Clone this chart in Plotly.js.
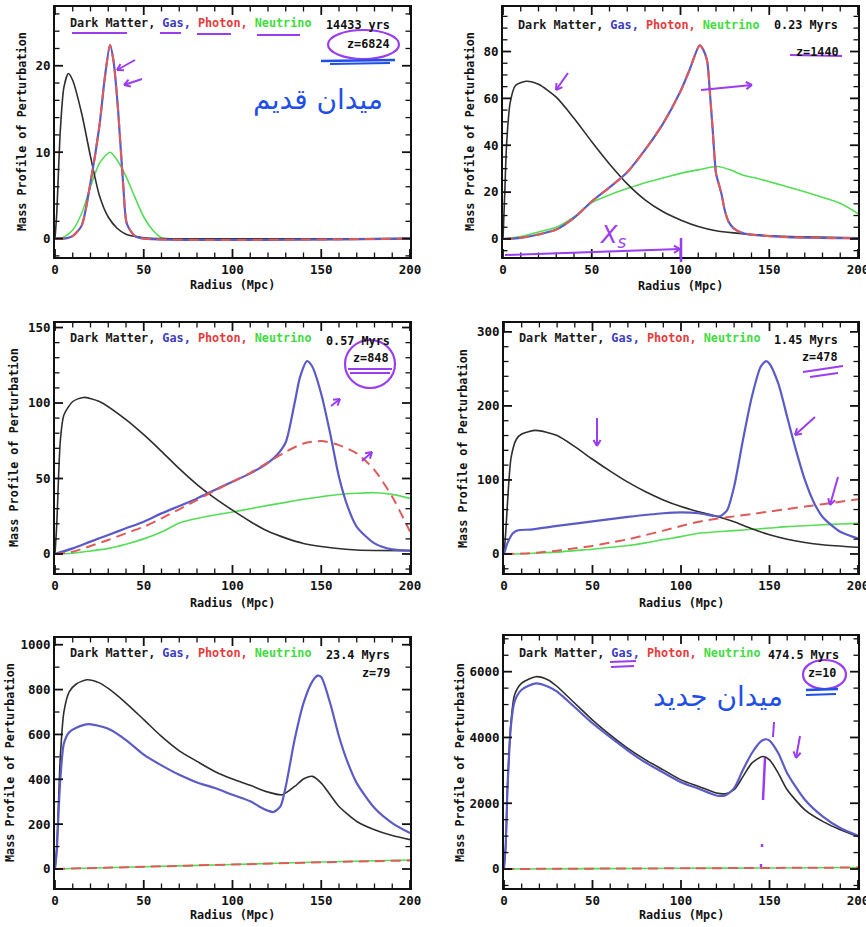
<!DOCTYPE html>
<html><head><meta charset="utf-8">
<script src="https://cdn.plot.ly/plotly-3.0.1.min.js"></script>
<style>body{margin:0;background:#fff}#c{width:866px;height:927px}</style>
</head><body><div id="c"></div>
<script>
// ---------- DATA ----------
// Panel 1: 14433 yrs, z=6824
const p1_dm_r = [0, 1, 2, 3, 5, 7.5, 10, 15, 20, 25, 30, 35, 40, 50, 60, 200];
const p1_dm   = [0, 3, 8, 12.5, 17.5, 19.1, 18.3, 14.5, 9.5, 5, 2.5, 1.2, 0.5, 0.1, 0, 0];
const p1_gas_r = [0, 5, 10, 15, 20, 25, 28, 31, 33, 35.5, 38.5, 40.5, 45, 50, 200];
const p1_gas   = [0, 0, 0.3, 1.5, 6.5, 13, 18.5, 22.4, 20.5, 15, 6, 1.7, 0.3, 0, 0];
const p1_ph_r  = [0, 5, 10, 15, 20, 25, 28, 31, 33, 35.5, 38.5, 40.5, 45, 50, 200];
const p1_ph    = [0, 0, 0.3, 1.5, 6.5, 13, 18.5, 22.4, 20.5, 15, 6, 1.7, 0.3, 0, 0];
const p1_nu_r = [0, 5, 10, 15, 20, 25, 31, 35, 40, 45, 50, 55, 60, 63, 200];
const p1_nu   = [0, 0.2, 1, 2.9, 6, 8.7, 10, 9.1, 7.2, 4.8, 2.5, 1, 0.1, 0, 0];

// Panel 2: 0.23 Myrs, z=1440
const p2_dm_r = [0, 1, 2, 4, 7, 13, 20, 30, 40, 50, 60, 70, 80, 90, 100, 110, 120, 130, 150, 200];
const p2_dm   = [0, 20, 40, 58, 65.5, 67.3, 66, 60.5, 51.5, 41.5, 32, 23.5, 16.7, 11.7, 8.1, 5.3, 3.5, 2.6, 1.4, 0.5];
const p2_gas_r = [0, 10, 20, 30, 40, 50, 60, 70, 80, 90, 100, 105, 110.8, 113, 115, 116.6, 118, 120, 121, 123, 125, 127, 130, 135, 140, 160, 200];
const p2_gas   = [0, 0.5, 1.9, 4, 9, 16, 22, 28.5, 38, 49, 63, 72, 82.6, 80.5, 76, 62, 48, 28, 25, 19.5, 12, 7.5, 4.5, 2.5, 1.8, 0.8, 0.3];
const p2_ph_r  = [0, 10, 20, 30, 40, 50, 60, 70, 80, 90, 100, 105, 110.8, 113, 115, 116.6, 118, 120, 121, 123, 125, 127, 130, 135, 140, 160, 200];
const p2_ph    = [0, 0.5, 1.9, 4, 9, 16, 22, 28.5, 38, 49, 63, 72, 82.6, 80.5, 76, 62, 48, 28, 25, 19.5, 12, 7.5, 4.5, 2.5, 1.8, 0.8, 0.3];
const p2_nu_r = [0, 10, 20, 30, 40, 50, 60, 70, 80, 90, 100, 110, 121, 128, 135, 145, 160, 175, 190, 200];
const p2_nu   = [0, 1, 3, 5, 9.4, 15.5, 18.8, 21.5, 24, 26, 28, 29.5, 30.9, 29.5, 27.3, 25.5, 22.3, 19, 15.2, 10.8];

// Panel 3: 0.57 Myrs, z=848
const p3_dm_r = [0, 1, 3, 5, 10, 16, 25, 40, 50, 60, 70, 80, 90, 100, 110, 120, 130, 140, 150, 170, 200];
const p3_dm   = [0, 20, 75, 92, 101, 103.7, 101, 89, 79, 68, 56.5, 46, 37, 29, 21.5, 15, 10.5, 7, 5, 2.6, 2.2];
const p3_gas_r = [0, 10, 20, 30, 40, 50, 60, 70, 80, 90, 100, 110, 120, 125, 130, 135, 138, 142, 145, 150, 155, 160, 165, 170, 180, 190, 200];
const p3_gas   = [0, 3.7, 8.2, 12.6, 17, 21.4, 26.9, 31.8, 36.8, 42.4, 47.9, 53.4, 60.4, 65.5, 74, 100, 117, 127.7, 124, 106, 80, 51, 31, 18, 7, 3, 2.2];
const p3_ph_r = [0, 10, 20, 30, 40, 50, 60, 70, 80, 90, 100, 110, 120, 130, 140, 150, 160, 170, 180, 190, 200];
const p3_ph   = [0, 1.5, 5.3, 9.3, 13.7, 18, 23.6, 29.6, 35.7, 41.9, 47.9, 53.8, 60.7, 67.7, 73.2, 74.8, 72.1, 66.6, 55.6, 37.9, 14.8];
const p3_nu_r = [0, 10, 20, 30, 40, 50, 60, 70, 80, 90, 100, 110, 120, 130, 140, 150, 160, 170, 180, 190, 200];
const p3_nu   = [0, 0.5, 2, 3.7, 6.5, 10, 14.5, 20.5, 23.5, 25.8, 27.8, 30, 32.2, 34.2, 36.2, 37.9, 39.4, 40.2, 40.6, 39.5, 36.8];

// Panel 4: 1.45 Myrs, z=478
const p4_dm_r = [0, 1, 2, 4, 7, 10, 18, 30, 40, 50, 60, 70, 80, 90, 100, 110, 120, 130, 140, 150, 160, 170, 180, 200];
const p4_dm   = [0, 30, 70, 130, 155, 162, 167, 160, 145, 128, 112, 97, 84, 73, 64, 57, 51, 43.5, 34, 26, 20, 15.5, 12.5, 9];
const p4_gas_r = [0, 1, 2, 5, 8, 15, 30, 50, 70, 90, 100, 110, 118, 122, 126, 130, 135, 140, 145, 148, 150, 155, 160, 165, 170, 175, 180, 190, 200];
const p4_gas   = [0, 8, 15, 28, 32, 33, 38, 44, 50, 55, 56.2, 55, 51.5, 51, 59, 91, 154, 212, 253, 260.5, 257, 230, 185, 140, 100, 70, 50, 30, 21];
const p4_ph_r = [0, 10, 20, 30, 40, 50, 60, 70, 80, 90, 100, 110, 120, 130, 140, 150, 160, 170, 180, 190, 200];
const p4_ph   = [0, 0.5, 2, 4.5, 7.6, 10.8, 15.3, 19.8, 25.6, 31.5, 37.8, 43.6, 47.6, 50.8, 54, 57.4, 60.7, 64, 67.3, 70.5, 73.8];
const p4_nu_r = [0, 10, 20, 30, 40, 50, 60, 70, 80, 90, 100, 110, 120, 130, 140, 150, 160, 170, 180, 190, 200];
const p4_nu   = [0, 0.3, 1.5, 2.5, 4.5, 6.3, 9, 11.5, 15, 19.5, 23.4, 28, 30, 31.5, 33.3, 35, 37, 38.2, 39.5, 40.5, 41.4];

// Panel 5: 23.4 Myrs, z=79
const p5_dm_r = [0, 1, 2, 3, 5, 8, 12, 18, 25, 30, 40, 50, 60, 70, 80, 90, 100, 110, 120, 128, 135, 140, 145, 150, 155, 160, 170, 180, 190, 200];
const p5_dm   = [0, 100, 300, 500, 700, 790, 825, 844, 830, 805, 740, 666, 591, 527, 480, 435, 401, 373, 343, 331, 368, 401, 413, 383, 331, 279, 212, 175, 149, 131];
const p5_gas_r = [0, 1, 2, 3, 5, 8, 12, 19, 30, 40, 50, 60, 70, 80, 90, 100, 110, 115, 120, 123, 127, 130, 135, 140, 145, 148, 150, 155, 160, 165, 170, 180, 190, 200];
const p5_gas   = [0, 80, 250, 400, 560, 610, 630, 646, 625, 575, 510, 462, 420, 386, 361, 331, 302, 279, 260, 254, 279, 368, 577, 740, 837, 862, 856, 740, 591, 473, 383, 272, 205, 160];
const p5_ph_r = [0, 50, 100, 150, 200];
const p5_ph   = [0, 10, 20, 30, 38];
const p5_nu_r = [0, 50, 100, 150, 200];
const p5_nu   = [0, 10, 20, 31, 40];

// Panel 6: 474.5 Myrs, z=10
const p6_dm_r = [0, 1, 2, 4, 6, 10, 18, 25, 30, 40, 50, 60, 70, 80, 90, 100, 110, 120, 125, 130, 135, 140, 146, 150, 155, 160, 170, 180, 190, 200];
const p6_dm   = [0, 700, 2500, 4500, 5300, 5650, 5848, 5750, 5550, 5040, 4530, 4080, 3670, 3320, 3015, 2710, 2510, 2310, 2290, 2410, 2810, 3220, 3420, 3320, 2910, 2410, 1800, 1450, 1195, 990];
const p6_gas_r = [0, 1, 2, 4, 6, 10, 18, 25, 30, 40, 50, 60, 70, 80, 90, 100, 110, 120, 125, 130, 135, 140, 145, 148, 150, 155, 160, 170, 180, 190, 200];
const p6_gas   = [0, 800, 2500, 4400, 5100, 5450, 5646, 5545, 5393, 4918, 4432, 4007, 3602, 3238, 2934, 2641, 2439, 2236, 2236, 2459, 3015, 3521, 3875, 3946, 3906, 3521, 2914, 2105, 1599, 1245, 1012];
const p6_ph_r = [0, 50, 100, 150, 200];
const p6_ph   = [0, 12, 22, 33, 45];
const p6_nu_r = [0, 50, 100, 150, 200];
const p6_nu   = [0, 12, 22, 33, 45];

const timeLabels = ["14433 yrs", "0.23 Myrs", "0.57 Myrs", "1.45 Myrs", "23.4 Myrs", "474.5 Myrs"];
const zLabels = ["z=6824", "z=1440", "z=848", "z=478", "z=79", "z=10"];
const seriesNames = ["Dark Matter", "Gas", "Photon", "Neutrino"];
const xTitle = "Radius (Mpc)";
const yTitle = "Mass Profile of Perturbation";

// ---------- STYLE / LAYOUT ----------
const W = 866, H = 927;
const FONT = "DejaVu Sans Mono";
const C_DM = "#2e2e2e", C_GAS = "#5b5bc8", C_PH = "#e05a5a", C_NU = "#55dd55";
const T_DM = "#1a1a1a", T_GAS = "#3b3bc4", T_PH = "#e53b3b", T_NU = "#3fdc3f";
const PURPLE = "#9a3cf0", BLUE = "#1f4fe6";

const px = x => x / W;
const py = y => 1 - y / H;

const panels = [
  {x0: 55, x1: 410, y0: 7, y1: 257, yr: [-2.13, 26.8], dt: 10, mdt: 2,
   dm: [p1_dm_r, p1_dm], gas: [p1_gas_r, p1_gas], ph: [p1_ph_r, p1_ph], nu: [p1_nu_r, p1_nu],
   legY: 23, tY: 25, zY: 44, tX: 392, zX: 392, ytX: 22, xtY: 285},
  {x0: 503, x1: 858, y0: 7, y1: 257, yr: [-7.7, 99], dt: 20, mdt: 5,
   dm: [p2_dm_r, p2_dm], gas: [p2_gas_r, p2_gas], ph: [p2_ph_r, p2_ph], nu: [p2_nu_r, p2_nu],
   legY: 25, tY: 25, zY: 52, tX: 840, zX: 841, ytX: 470, xtY: 286},
  {x0: 55, x1: 410, y0: 323, y1: 573, yr: [-12.6, 153], dt: 50, mdt: 10,
   dm: [p3_dm_r, p3_dm], gas: [p3_gas_r, p3_gas], ph: [p3_ph_r, p3_ph], nu: [p3_nu_r, p3_nu],
   legY: 338, tY: 341, zY: 358, tX: 392, zX: 391, ytX: 14, xtY: 603},
  {x0: 504, x1: 858, y0: 323, y1: 573, yr: [-25.7, 312], dt: 100, mdt: 20,
   dm: [p4_dm_r, p4_dm], gas: [p4_gas_r, p4_gas], ph: [p4_ph_r, p4_ph], nu: [p4_nu_r, p4_nu],
   legY: 338, tY: 340, zY: 357, tX: 840, zX: 840, ytX: 463, xtY: 603},
  {x0: 55, x1: 410, y0: 638, y1: 888, yr: [-84.7, 1030], dt: 200, mdt: 100,
   dm: [p5_dm_r, p5_dm], gas: [p5_gas_r, p5_gas], ph: [p5_ph_r, p5_ph], nu: [p5_nu_r, p5_nu],
   legY: 653, tY: 655, zY: 673, tX: 392, zX: 392, ytX: 10, xtY: 915},
  {x0: 504, x1: 858, y0: 636, y1: 888, yr: [-577, 7085], dt: 2000, mdt: 500,
   dm: [p6_dm_r, p6_dm], gas: [p6_gas_r, p6_gas], ph: [p6_ph_r, p6_ph], nu: [p6_nu_r, p6_nu],
   legY: 653, tY: 655, zY: 673, tX: 841, zX: 838, ytX: 460, xtY: 915}
];

const traces = [];
const layout = {
  width: W, height: H, margin: {l: 0, r: 0, t: 0, b: 0},
  paper_bgcolor: "#fff", plot_bgcolor: "rgba(0,0,0,0)", showlegend: false,
  annotations: [], shapes: []
};
const tfont = {family: FONT, size: 12.5, color: "#111", weight: "bold"};
const lfont = {family: FONT, size: 11.8, color: "#111", weight: "bold"};

const line = (x0, y0, x1, y1, c, w) => layout.shapes.push({type: "line", xref: "paper", yref: "paper",
  x0: px(x0), y0: py(y0), x1: px(x1), y1: py(y1), line: {color: c, width: w || 2}});

// inward tick marks on all four sides (same linear map as the axes: domain pixels <-> range)
function tickMarks(p) {
  const X = v => p.x0 + (v - 0) / 200 * (p.x1 - p.x0);
  const Y = v => p.y1 - (v - p.yr[0]) / (p.yr[1] - p.yr[0]) * (p.y1 - p.y0);
  for (let k = 0; k <= 20; k++) {
    const v = k * 10, major = (v % 50 === 0), len = major ? 8 : 4.5, w = major ? 1.8 : 1.3;
    line(X(v), p.y1, X(v), p.y1 - len, "#111", w);
    line(X(v), p.y0, X(v), p.y0 + len, "#111", w);
  }
  const k0 = Math.ceil(p.yr[0] / p.mdt), k1 = Math.floor(p.yr[1] / p.mdt);
  for (let k = k0; k <= k1; k++) {
    const v = k * p.mdt, major = Math.abs(v / p.dt - Math.round(v / p.dt)) < 1e-9;
    const len = major ? 8 : 4.5, w = major ? 1.8 : 1.3;
    line(p.x0, Y(v), p.x0 + len, Y(v), "#111", w);
    line(p.x1, Y(v), p.x1 - len, Y(v), "#111", w);
  }
}

panels.forEach((p, i) => {
  const n = i + 1;
  const xa = "x" + n, ya = "y" + n;
  const add = (d, color, width, dash) => traces.push({
    type: "scatter", mode: "lines", x: d[0], y: d[1], xaxis: xa, yaxis: ya,
    line: {color: color, width: width, dash: dash, shape: "spline", smoothing: 0.7},
    hoverinfo: "skip", showlegend: false
  });
  add(p.nu, C_NU, 1.6, "solid");
  add(p.dm, C_DM, 1.6, "solid");
  add(p.gas, C_GAS, 2.2, "solid");
  add(p.ph, C_PH, 2, "10px,6px");

  layout["xaxis" + n] = {
    domain: [px(p.x0), px(p.x1)], anchor: ya, range: [0, 200], tick0: 0, dtick: 50,
    ticks: "", showline: true, linewidth: 2, linecolor: "#111", mirror: true,
    showgrid: false, zeroline: false, tickfont: tfont, ticklabeloverflow: "allow"
  };
  layout["yaxis" + n] = {
    domain: [py(p.y1), py(p.y0)], anchor: xa, range: p.yr, tick0: 0, dtick: p.dt,
    ticks: "", showline: true, linewidth: 2, linecolor: "#111", mirror: true,
    showgrid: false, zeroline: false, tickfont: tfont
  };
  tickMarks(p);

  const legText =
    '<span style="color:' + T_DM + '">' + seriesNames[0] + ',</span> ' +
    '<span style="color:' + T_GAS + '">' + seriesNames[1] + ',</span> ' +
    '<span style="color:' + T_PH + '">' + seriesNames[2] + ',</span> ' +
    '<span style="color:' + T_NU + '">' + seriesNames[3] + '</span>';
  layout.annotations.push(
    {xref: "paper", yref: "paper", x: px(p.x0 + 13), y: py(p.legY), xanchor: "left", yanchor: "middle",
     text: legText, showarrow: false, font: lfont},
    {xref: "paper", yref: "paper", x: px(p.tX), y: py(p.tY), xanchor: "right", yanchor: "middle",
     text: timeLabels[i], showarrow: false, font: lfont},
    {xref: "paper", yref: "paper", x: px(p.zX), y: py(p.zY), xanchor: "right", yanchor: "middle",
     text: zLabels[i], showarrow: false, font: lfont},
    {xref: "paper", yref: "paper", x: px((p.x0 + p.x1) / 2), y: py(p.xtY), xanchor: "center", yanchor: "middle",
     text: xTitle, showarrow: false, font: lfont},
    {xref: "paper", yref: "paper", x: px(p.ytX), y: py((p.y0 + p.y1) / 2), xanchor: "center", yanchor: "middle",
     text: yTitle, textangle: -90, showarrow: false, font: lfont}
  );
});

// ---------- hand-drawn notes (decoration) ----------
const ell = (x0, y0, x1, y1, c) => layout.shapes.push({type: "circle", xref: "paper", yref: "paper",
  x0: px(x0), y0: py(y1), x1: px(x1), y1: py(y0), line: {color: c, width: 2.2}});
const arrow = (hx, hy, tx, ty, c) => {
  line(tx, ty, hx, hy, c, 2);
  const dx = hx - tx, dy = hy - ty, L = Math.hypot(dx, dy), ux = dx / L, uy = dy / L, s = 6;
  line(hx, hy, hx - s * ux + s * 0.6 * uy, hy - s * uy - s * 0.6 * ux, c, 2);
  line(hx, hy, hx - s * ux - s * 0.6 * uy, hy - s * uy + s * 0.6 * ux, c, 2);
};
const note = (x, y, t, c, s) => layout.annotations.push({xref: "paper", yref: "paper", x: px(x), y: py(y),
  xanchor: "center", yanchor: "middle", text: t, showarrow: false, font: {family: "DejaVu Sans", size: s, color: c}});

// panel 1
line(72, 33, 127, 33, PURPLE); line(160, 33, 181, 33, PURPLE); line(197, 34, 231, 34, PURPLE); line(257, 35, 300, 35, PURPLE);
ell(328, 30, 399, 59, PURPLE);
line(321, 61, 395, 60, BLUE, 2.5); line(330, 64, 390, 63, BLUE, 2);
note(318, 100, "میدان قدیم", BLUE, 28);
arrow(117, 70, 135, 60, PURPLE); arrow(124, 85, 142, 79, PURPLE);
// panel 2
arrow(556, 90, 568, 73, PURPLE); arrow(752, 85, 701, 90, PURPLE);
note(612, 237, "<i>X<sub>s</sub></i>", PURPLE, 24);
arrow(680, 249, 505, 255, PURPLE); line(681, 238, 681, 262, PURPLE, 2.5);
line(790, 55, 842, 56, PURPLE);
// panel 3
ell(345, 340, 395, 388, PURPLE);
line(348, 369, 392, 369, PURPLE); line(350, 373, 390, 373, PURPLE);
arrow(340, 399, 331, 406, PURPLE); arrow(372, 452, 362, 461, PURPLE);
// panel 4
arrow(597, 446, 597, 418, PURPLE); arrow(795, 435, 815, 417, PURPLE);
line(803, 372, 843, 366, PURPLE); line(810, 377, 838, 373, PURPLE);
arrow(830, 505, 838, 477, PURPLE);
// panel 6
line(610, 662, 636, 661, PURPLE); line(611, 667, 634, 666, PURPLE);
ell(803, 660, 846, 689, PURPLE);
line(806, 690, 838, 689, BLUE, 2.5); line(806, 695, 836, 694, BLUE, 2);
note(718, 696, "میدان جدید", BLUE, 28);
line(774, 722, 773, 737, PURPLE); arrow(796, 758, 800, 736, PURPLE);
line(765, 758, 763, 800, PURPLE, 2.5);
line(762, 844, 762, 847, PURPLE, 2.5); line(761, 864, 761, 867, PURPLE, 2.5);

Plotly.newPlot("c", traces, layout, {staticPlot: true, displayModeBar: false});
</script></body></html>
